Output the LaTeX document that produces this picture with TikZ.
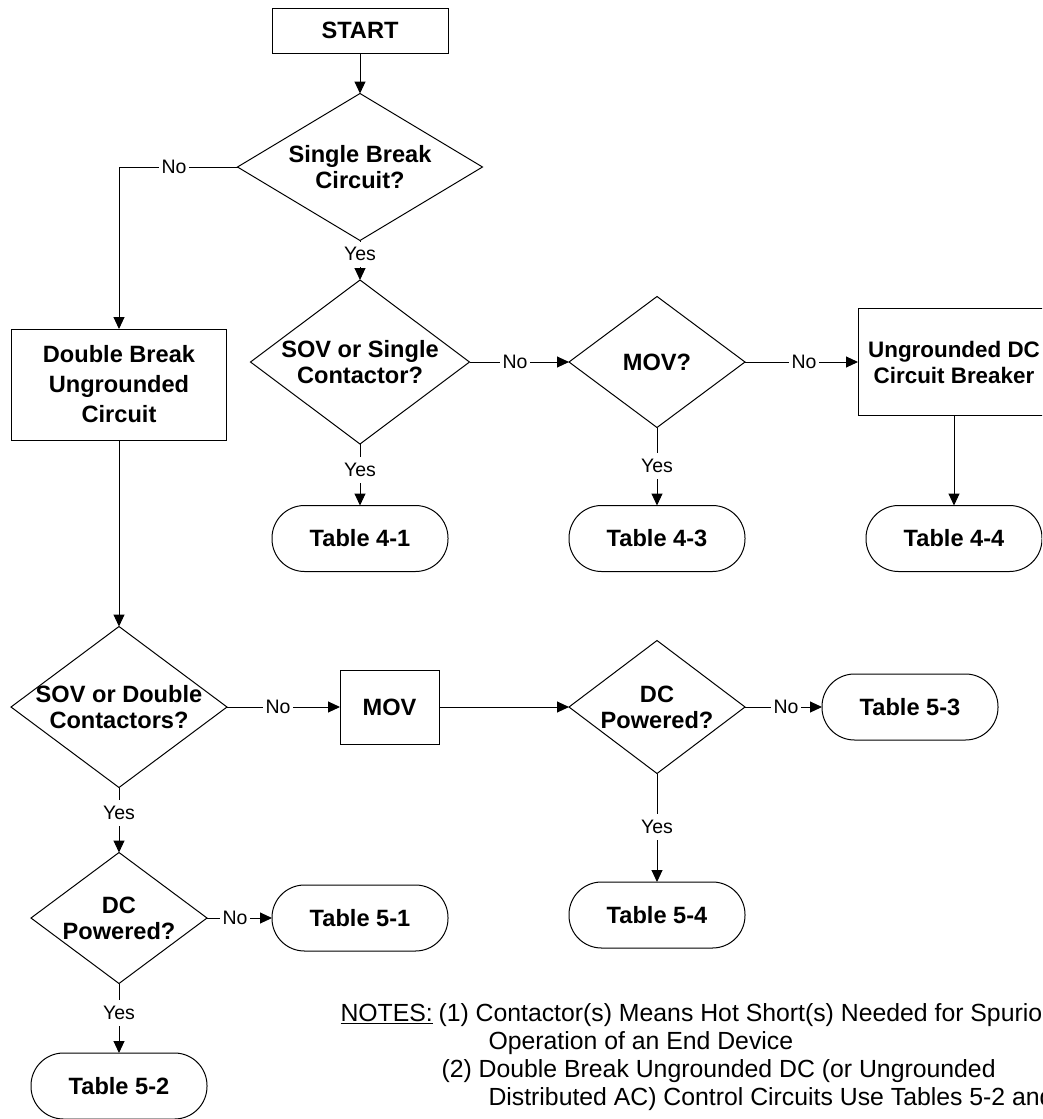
\documentclass[tikz,border=0pt]{standalone}
\usepackage{fontspec}
\setmainfont{Liberation Sans}
\usetikzlibrary{shapes.geometric,arrows.meta}
\begin{document}
\begin{tikzpicture}[x=1pt,y=-1pt,
  line width=1pt,
  bfont/.style={font=\fontsize{23.6}{26}\selectfont\bfseries},
  box/.style={draw, rectangle, bfont, align=center, inner sep=0pt, outer sep=0pt},
  term/.style={draw, rectangle, rounded corners=32.5pt, minimum width=176pt,
    minimum height=66pt, bfont, inner sep=0pt, outer sep=0pt},
  dia/.style={draw, diamond, inner sep=0pt, outer sep=0pt},
  dtxt/.style={bfont, align=center, inner sep=0pt},
  lbl/.style={font=\fontsize{19.5}{22}\selectfont, inner xsep=2.5pt, inner ysep=6pt},
  arr/.style={-{Triangle[length=12pt,width=11pt]}},
  note/.style={font=\fontsize{24.8}{28}\selectfont, anchor=base west, inner sep=0pt}
]
\useasboundingbox (0,0) rectangle (1042,1119);
\clip (0,0) rectangle (1042,1119);

% decision and process nodes
\node[box, minimum width=176pt, minimum height=45pt] (start) at (360,30.5) {START};
\node[dia, minimum width=245pt, minimum height=147pt,
  label={[dtxt]center:Single Break\\Circuit?}] (sb) at (360,167) {};
\node[box, minimum width=215pt, minimum height=111pt,
  font=\fontsize{23.6}{30}\selectfont\bfseries] (db) at (119,384.5) {Double Break\\Ungrounded\\Circuit};
\node[dia, minimum width=219pt, minimum height=164pt,
  label={[dtxt]center:SOV or Single\\Contactor?}] (sov1) at (360,362) {};
\node[dia, minimum width=176pt, minimum height=131pt,
  label={[dtxt]center:MOV?}] (movq) at (657,362) {};
\node[box, minimum width=192pt, minimum height=107pt,
  font=\fontsize{22.4}{26}\selectfont\bfseries] (udc) at (954,362) {Ungrounded DC\\Circuit Breaker};
\node[term] (t41) at (360,538.5) {Table 4-1};
\node[term] (t43) at (657,538.5) {Table 4-3};
\node[term] (t44) at (954,538.5) {Table 4-4};
\node[dia, minimum width=216pt, minimum height=161pt,
  label={[dtxt]center:SOV or Double\\Contactors?}] (sov2) at (119,707) {};
\node[box, minimum width=99pt, minimum height=74pt] (mov) at (389.5,707) {MOV};
\node[dia, minimum width=176pt, minimum height=133pt,
  label={[dtxt]center:DC\\Powered?}] (dc1) at (657,707) {};
\node[term] (t53) at (910,707) {Table 5-3};
\node[term] (t54) at (657,915) {Table 5-4};
\node[dia, minimum width=176pt, minimum height=131pt,
  label={[dtxt]center:DC\\Powered?}] (dc2) at (119,918) {};
\node[term] (t51) at (360,918) {Table 5-1};
\node[term] (t52) at (119,1086) {Table 5-2};

% branch labels
\node[lbl] (no1) at (174,167) {No};
\node[lbl] (yes1) at (360,254) {Yes};
\node[lbl] (no2) at (515,362) {No};
\node[lbl] (no3) at (804,362) {No};
\node[lbl] (yes2) at (360,470) {Yes};
\node[lbl] (yes3) at (657,466) {Yes};
\node[lbl] (no4) at (278,707) {No};
\node[lbl] (no5) at (786,707) {No};
\node[lbl] (yes4) at (657,827) {Yes};
\node[lbl] (yes5) at (119,813) {Yes};
\node[lbl] (no6) at (235,918) {No};
\node[lbl] (yes6) at (119,1013) {Yes};

% connectors
\draw[arr] (start.south) -- (sb.north);
\draw (sb.west) -- (no1);
\draw[arr] (no1) -| (db.north);
\draw (sb.south) -- (yes1);
\draw[arr] (yes1) -- (sov1.north);
\draw (sov1.east) -- (no2);
\draw[arr] (no2) -- (movq.west);
\draw (movq.east) -- (no3);
\draw[arr] (no3) -- (udc.west);
\draw[arr] (udc.south) -- (t44.north);
\draw (sov1.south) -- (yes2);
\draw[arr] (yes2) -- (t41.north);
\draw (movq.south) -- (yes3);
\draw[arr] (yes3) -- (t43.north);
\draw[arr] (db.south) -- (sov2.north);
\draw (sov2.east) -- (no4);
\draw[arr] (no4) -- (mov.west);
\draw[arr] (mov.east) -- (dc1.west);
\draw (dc1.east) -- (no5);
\draw[arr] (no5) -- (t53.west);
\draw (dc1.south) -- (yes4);
\draw[arr] (yes4) -- (t54.north);
\draw (sov2.south) -- (yes5);
\draw[arr] (yes5) -- (dc2.north);
\draw (dc2.east) -- (no6);
\draw[arr] (no6) -- (t51.west);
\draw (dc2.south) -- (yes6);
\draw[arr] (yes6) -- (t52.north);

% notes
\node[note] (n0) at (340,1021.5) {\underline{NOTES:}};
\node[note] (n1) at (438,1021.5) {(1) Contactor(s) Means Hot Short(s) Needed for Spurious};
\node[note] (n2) at (488,1049.5) {Operation of an End Device};
\node[note] (n3) at (441,1077.5) {(2) Double Break Ungrounded DC (or Ungrounded};
\node[note] (n4) at (488,1105.5) {Distributed AC) Control Circuits Use Tables 5-2 and 5-4};
\end{tikzpicture}
\end{document}
